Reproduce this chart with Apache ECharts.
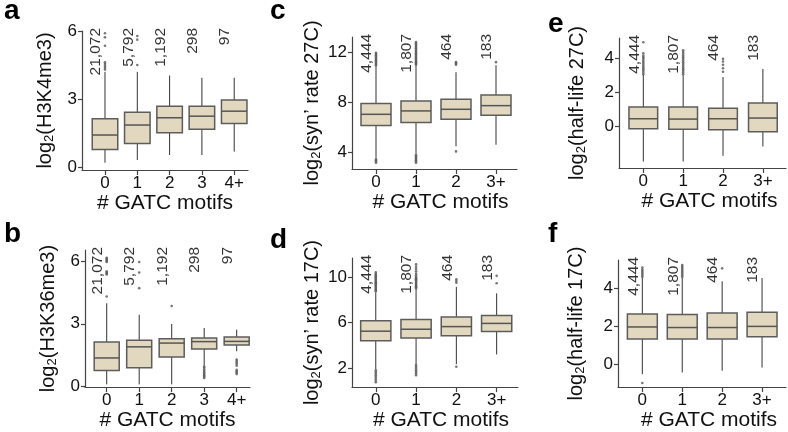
<!DOCTYPE html>
<html><head><meta charset="utf-8">
<script src="https://cdn.jsdelivr.net/npm/echarts@6/dist/echarts.min.js"></script>
<style>html,body{margin:0;padding:0;background:#fff}#c{width:788px;height:432px}</style>
</head><body><div id="c"></div>
<script>
// ---------- data ----------
const cats5 = ['0', '1', '2', '3', '4+'];
const cats4 = ['0', '1', '2', '3+'];
const countsAB = ['21,072', '5,792', '1,192', '298', '97'];
const countsCF = ['4,444', '1,807', '464', '183'];

// boxes: [lower whisker, Q1, median, Q3, upper whisker]
const boxA = [[0.2, 0.78, 1.42, 2.14, 4.2], [0.32, 1.05, 1.86, 2.42, 4.2], [0.54, 1.52, 2.18, 2.69, 4.04], [0.54, 1.67, 2.25, 2.69, 3.94], [0.69, 1.93, 2.47, 2.96, 3.94]];
const boxB = [[0.11, 0.77, 1.37, 2.13, 3.98], [0.11, 0.9, 1.9, 2.21, 3.43], [0.11, 1.42, 2.08, 2.29, 2.99], [1.0, 1.8, 2.15, 2.32, 2.8], [1.69, 1.99, 2.16, 2.37, 2.72]];
const boxC = [[3.6, 6.16, 7.05, 7.92, 10.9], [3.9, 6.39, 7.32, 8.1, 10.95], [4.5, 6.66, 7.45, 8.24, 10.4], [4.63, 6.97, 7.74, 8.58, 10.95]];
const boxD = [[1.94, 4.43, 5.26, 6.17, 8.66], [2.37, 4.66, 5.43, 6.29, 8.94], [2.37, 4.86, 5.66, 6.51, 9.14], [3.23, 5.23, 5.94, 6.63, 8.57]];
const boxE = [[-2.05, -0.14, 0.45, 1.13, 3.02], [-2.05, -0.16, 0.43, 1.13, 3.0], [-1.72, -0.2, 0.45, 1.07, 2.89], [-1.17, -0.31, 0.49, 1.37, 3.36]];
const boxF = [[-0.52, 1.34, 1.97, 2.66, 4.55], [-0.43, 1.34, 1.94, 2.63, 4.55], [-0.34, 1.34, 1.94, 2.7, 4.38], [-0.17, 1.46, 2.0, 2.75, 4.55]];

// outliers: [category index, value]
const outA = [[0, 4.3], [0, 4.38], [0, 4.46], [0, 4.55], [0, 4.62], [0, 5.35], [0, 5.72], [0, 5.9],
  [1, 4.5], [1, 5.62], [1, 5.78]];
const outB = [[0, 4.3], [0, 5.35], [0, 5.4], [0, 5.45], [0, 5.5], [0, 5.95], [0, 6.0], [0, 6.05], [0, 6.1], [0, 6.15],
  [1, 4.7], [1, 5.45], [1, 5.95], [2, 3.85],
  [3, 0.42], [3, 0.48], [3, 0.55], [3, 0.62], [3, 0.68], [3, 0.75], [3, 0.82], [3, 0.9], [3, 0.96],
  [4, 0.6], [4, 0.67], [4, 0.73], [4, 0.8], [4, 1.0], [4, 1.08], [4, 1.15], [4, 1.22], [4, 1.3]];
const outC = [[0, 10.95], [0, 11.05], [0, 11.15], [0, 11.25], [0, 11.35], [0, 11.45], [0, 11.55], [0, 11.65], [0, 11.75], [0, 11.85], [0, 11.95],
  [0, 3.2], [0, 3.3], [0, 3.4], [0, 3.5],
  [1, 11.0], [1, 11.1], [1, 11.2], [1, 11.3], [1, 11.4], [1, 11.5], [1, 11.6], [1, 11.7], [1, 11.8], [1, 11.9], [1, 12.0], [1, 12.1], [1, 12.2], [1, 12.3], [1, 12.4], [1, 12.5], [1, 12.6], [1, 12.7], [1, 12.8],
  [1, 3.2], [1, 3.3], [1, 3.4], [1, 3.5], [1, 3.6], [1, 3.7], [1, 3.8],
  [2, 11.0], [2, 11.1], [2, 11.2], [2, 4.1], [3, 11.2]];
const outD = [[0, 8.75], [0, 8.85], [0, 8.95], [0, 9.05], [0, 9.15], [0, 9.25], [0, 9.35], [0, 9.45], [0, 9.55], [0, 9.65], [0, 9.75], [0, 9.85], [0, 9.95], [0, 10.05], [0, 10.15], [0, 10.25], [0, 10.4],
  [0, 0.8], [0, 0.95], [0, 1.1], [0, 1.25], [0, 1.4], [0, 1.55], [0, 1.7], [0, 1.85],
  [1, 9.0], [1, 9.1], [1, 9.2], [1, 9.3], [1, 9.4], [1, 9.5], [1, 9.6], [1, 9.7], [1, 9.8], [1, 9.9], [1, 10.0], [1, 10.15], [1, 10.3], [1, 10.5], [1, 10.7], [1, 10.9], [1, 11.1],
  [1, 1.4], [1, 1.55], [1, 1.7], [1, 1.85], [1, 2.0], [1, 2.15], [1, 2.3],
  [2, 9.5], [2, 9.65], [2, 9.8], [2, 2.15], [3, 9.45], [3, 10.1]];
const outE = [[0, 3.05], [0, 3.15], [0, 3.25], [0, 3.35], [0, 3.45], [0, 3.55], [0, 3.65], [0, 3.75], [0, 3.85], [0, 3.95], [0, 4.05], [0, 4.15], [0, 4.28], [0, 4.92],
  [1, 3.05], [1, 3.15], [1, 3.25], [1, 3.35], [1, 3.45], [1, 3.55], [1, 3.65], [1, 3.75], [1, 3.85], [1, 3.95], [1, 4.05], [1, 4.15], [1, 4.25], [1, 4.35], [1, 4.45],
  [2, 3.2], [2, 3.4], [2, 3.6], [2, 3.8], [2, 3.95]];
const outF = [[0, 4.6], [0, 4.68], [0, 4.76], [0, 4.84], [0, 4.92], [0, 5.0], [0, 5.1], [0, -0.98],
  [1, 4.6], [1, 4.68], [1, 4.76], [1, 4.84], [1, 4.92], [1, 5.0], [1, 5.08], [1, 5.16], [1, 5.24],
  [2, 5.06]];

// tick values
const yTicksA = [0, 3, 6];
const yTicksB = [0, 3, 6];
const yTicksC = [4, 8, 12];
const yTicksD = [2, 6, 10];
const yTicksE = [0, 2, 4];
const yTicksF = [0, 2, 4];

const yNames = [['log', '(H3K4me3)'], ['log', '(H3K36me3)'], ['log', '(syn\u2019 rate 27C)'], ['log', '(syn\u2019 rate 17C)'], ['log', '(half-life 27C)'], ['log', '(half-life 17C)']];
const xName = '# GATC motifs';
const letters = ['a', 'b', 'c', 'd', 'e', 'f'];

// ---------- layout (pixels) ----------
const panels = [
  {cats: cats5, counts: countsAB, box: boxA, out: outA, ticks: yTicksA, grid: {left: 82, width: 166, top: 31, height: 139}, x: [-0.712, 4.427], y: [-0.12, 6], bw: 0.79, letter: {left: 4, top: -3}, nameGap: 26, xPad: 0},
  {cats: cats5, counts: countsAB, box: boxB, out: outB, ticks: yTicksB, grid: {left: 85, width: 165, top: 250, height: 138}, x: [-0.668, 4.41], y: [-0.02, 6.52], bw: 0.77, letter: {left: 4, top: 220}, nameGap: 26, xPad: 0},
  {cats: cats4, counts: countsCF, box: boxC, out: outC, ticks: yTicksC, grid: {left: 352, width: 165, top: 37, height: 132}, x: [-0.6, 3.525], y: [2.7, 13.2], bw: 0.75, letter: {left: 270, top: -3}, nameGap: 29, xPad: 12},
  {cats: cats4, counts: countsCF, box: boxD, out: outD, ticks: yTicksD, grid: {left: 352, width: 166, top: 258, height: 132}, x: [-0.59, 3.53], y: [0.37, 11.66], bw: 0.75, letter: {left: 270, top: 226}, nameGap: 29, xPad: 12},
  {cats: cats4, counts: countsCF, box: boxE, out: outE, ticks: yTicksE, grid: {left: 619, width: 167, top: 38, height: 130}, x: [-0.61, 3.58], y: [-2.43, 5.17], bw: 0.72, letter: {left: 548, top: 10}, nameGap: 31, xPad: 14},
  {cats: cats4, counts: countsCF, box: boxF, out: outF, ticks: yTicksF, grid: {left: 618, width: 168, top: 260, height: 130}, x: [-0.61, 3.6], y: [-1.2, 5.5], bw: 0.75, letter: {left: 548, top: 220}, nameGap: 31, xPad: 14}
];

const FONT = 'Liberation Sans, Arial, sans-serif';
const AX = '#444';

function boxRenderer(bw) {
  return function (params, api) {
    const x = api.value(0);
    const lo = api.coord([x, api.value(1)]);
    const q1 = api.coord([x, api.value(2)]);
    const md = api.coord([x, api.value(3)]);
    const q3 = api.coord([x, api.value(4)]);
    const hi = api.coord([x, api.value(5)]);
    const w = api.size([bw, 0])[0];
    const cx = q1[0];
    return {
      type: 'group',
      children: [
        {type: 'line', shape: {x1: cx, y1: lo[1], x2: cx, y2: q1[1]}, style: {stroke: '#333', lineWidth: 1}},
        {type: 'line', shape: {x1: cx, y1: q3[1], x2: cx, y2: hi[1]}, style: {stroke: '#333', lineWidth: 1}},
        {type: 'rect', shape: {x: cx - w / 2, y: q3[1], width: w, height: q1[1] - q3[1]}, style: {fill: '#e2d8bf', stroke: '#5c5c5c', lineWidth: 1.5}},
        {type: 'line', shape: {x1: cx - w / 2, y1: md[1], x2: cx + w / 2, y2: md[1]}, style: {stroke: '#555', lineWidth: 1.5}}
      ]
    };
  };
}

const option = {animation: false, backgroundColor: '#fff', title: [], grid: [], xAxis: [], yAxis: [], series: []};

panels.forEach((p, i) => {
  option.title.push({text: letters[i], left: p.letter.left, top: p.letter.top, padding: 0,
    textStyle: {fontFamily: FONT, fontSize: 28, fontWeight: 'bold', color: '#000'}});
  option.grid.push(Object.assign({containLabel: false}, p.grid));
  const cats = p.cats;
  option.xAxis.push({
    type: 'value', gridIndex: i, min: p.x[0], max: p.x[1], splitLine: {show: false},
    axisLine: {show: true, onZero: false, lineStyle: {color: AX, width: 1.2}},
    axisTick: {show: true, length: 5, customValues: cats.map((c, k) => k), lineStyle: {color: AX, width: 1.2}},
    axisLabel: {customValues: cats.map((c, k) => k), formatter: v => cats[Math.round(v)], fontFamily: FONT, fontSize: 17, color: '#111', margin: 5},
    name: xName, nameLocation: 'middle', nameGap: 20,
    nameTextStyle: {fontFamily: FONT, fontSize: 21, color: '#111', verticalAlign: 'top', padding: [0, 0, 0, p.xPad]}
  });
  option.yAxis.push({
    type: 'value', gridIndex: i, min: p.y[0], max: p.y[1], splitLine: {show: false},
    axisLine: {show: true, onZero: false, lineStyle: {color: AX, width: 1.2}},
    axisTick: {show: true, length: 4, customValues: p.ticks, lineStyle: {color: AX, width: 1.2}},
    axisLabel: {customValues: p.ticks, fontFamily: FONT, fontSize: 17, color: '#111', margin: 5},
    name: '{a|' + yNames[i][0] + '}{s|2}{a|' + yNames[i][1] + '}', nameLocation: 'middle', nameRotate: 90, nameGap: p.nameGap,
    nameTextStyle: {rich: {
      a: {fontFamily: FONT, fontSize: 20, color: '#111', lineHeight: 22},
      s: {fontFamily: FONT, fontSize: 13, color: '#111', lineHeight: 12, verticalAlign: 'bottom'}
    }}
  });
  option.series.push({
    type: 'custom', xAxisIndex: i, yAxisIndex: i, renderItem: boxRenderer(p.bw),
    encode: {x: 0, y: [1, 2, 3, 4, 5]},
    data: p.box.map((b, k) => [k].concat(b)), z: 2
  });
  option.series.push({
    type: 'scatter', xAxisIndex: i, yAxisIndex: i, symbol: 'circle', symbolSize: 2.6,
    itemStyle: {color: '#555'}, data: p.out, z: 3, silent: true
  });
  option.series.push({
    type: 'scatter', xAxisIndex: i, yAxisIndex: i, symbolSize: 0, silent: true, z: 4,
    data: p.counts.map((c, k) => ({value: [k, p.y[1]], name: c})),
    label: {show: true, position: 'inside', formatter: d => d.name, rotate: 90, align: 'right', verticalAlign: 'middle',
      offset: [3, -9], fontFamily: FONT, fontSize: 15.5, color: '#000'}
  });
});

const chart = echarts.init(document.getElementById('c'), null, {renderer: 'canvas'});
chart.setOption(option);
</script></body></html>
